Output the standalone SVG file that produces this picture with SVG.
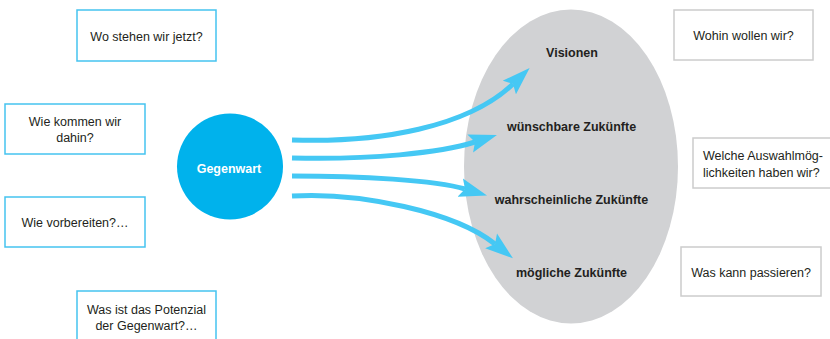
<svg xmlns="http://www.w3.org/2000/svg" width="830" height="339" viewBox="0 0 830 339">
  <style>
    .qb { fill: #ffffff; stroke: #45c3f0; stroke-width: 1.5; }
    .qg { fill: #ffffff; stroke: #cccccc; stroke-width: 1.5; }
    .qt { font-family: "Liberation Sans", Arial, sans-serif; font-size: 12.5px; fill: #231f20; text-anchor: middle; }
    .qs { font-family: "Liberation Sans", Arial, sans-serif; font-size: 12.5px; fill: #231f20; text-anchor: start; }
    .lb { font-family: "Liberation Sans", Arial, sans-serif; font-size: 12.5px; font-weight: bold; fill: #231f20; text-anchor: middle; }
    .arr { fill: none; stroke: #45c8f4; stroke-width: 5; marker-end: url(#head); }
  </style>
  <defs>
    <marker id="head" markerUnits="userSpaceOnUse" viewBox="0 0 28 20" markerWidth="28" markerHeight="20" refX="5" refY="10" orient="auto">
      <path d="M0,0.5 L28,10 L0,19.5 L5,10 z" fill="#45c8f4"/>
    </marker>
  </defs>

  <g id="zukuenfte">
    <ellipse cx="571" cy="166.5" rx="107" ry="157" fill="#d1d2d4"/>
    <text class="lb" x="572" y="57">Visionen</text>
    <text class="lb" x="571.5" y="131">wünschbare Zukünfte</text>
    <text class="lb" x="571.5" y="204">wahrscheinliche Zukünfte</text>
    <text class="lb" x="571.5" y="277">mögliche Zukünfte</text>
  </g>

  <g id="connectors">
    <path class="arr" d="M292,140 C380,143 468,127 513,84"/>
    <path class="arr" d="M292,158 C370,160 440,153 475,142"/>
    <path class="arr" d="M292,176 C360,176 435,180 465,189"/>
    <path class="arr" d="M292,196 C360,192 455,212 495,244"/>
  </g>

  <g id="gegenwart">
    <circle cx="230" cy="166.5" r="53" fill="#00b2ec"/>
    <text x="229" y="173" font-family="'Liberation Sans', Arial, sans-serif" font-size="12.5" font-weight="bold" fill="#ffffff" text-anchor="middle">Gegenwart</text>
  </g>

  <g id="q-wo-stehen">
    <rect class="qb" x="77" y="10" width="139" height="51"/>
    <text class="qt" x="146.5" y="41">Wo stehen wir jetzt?</text>
  </g>
  <g id="q-wie-kommen">
    <rect class="qb" x="5" y="104" width="140" height="50"/>
    <text class="qt" x="75" y="126">Wie kommen wir</text>
    <text class="qt" x="75" y="142">dahin?</text>
  </g>
  <g id="q-wie-vorbereiten">
    <rect class="qb" x="5" y="197" width="140" height="50"/>
    <text class="qt" x="75" y="227">Wie vorbereiten?…</text>
  </g>
  <g id="q-potenzial">
    <rect class="qb" x="77" y="291" width="139" height="60"/>
    <text class="qt" x="146.5" y="314">Was ist das Potenzial</text>
    <text class="qt" x="146.5" y="330">der Gegenwart?…</text>
  </g>

  <g id="q-wohin">
    <rect class="qg" x="674" y="10" width="139" height="50"/>
    <text class="qt" x="743.5" y="40">Wohin wollen wir?</text>
  </g>
  <g id="q-auswahl">
    <rect class="qg" x="693" y="138" width="145" height="50"/>
    <text class="qs" x="703" y="160">Welche Auswahlmög-</text>
    <text class="qs" x="703" y="177">lichkeiten haben wir?</text>
  </g>
  <g id="q-passieren">
    <rect class="qg" x="681" y="247" width="140" height="49"/>
    <text class="qt" x="751" y="277">Was kann passieren?</text>
  </g>
</svg>
